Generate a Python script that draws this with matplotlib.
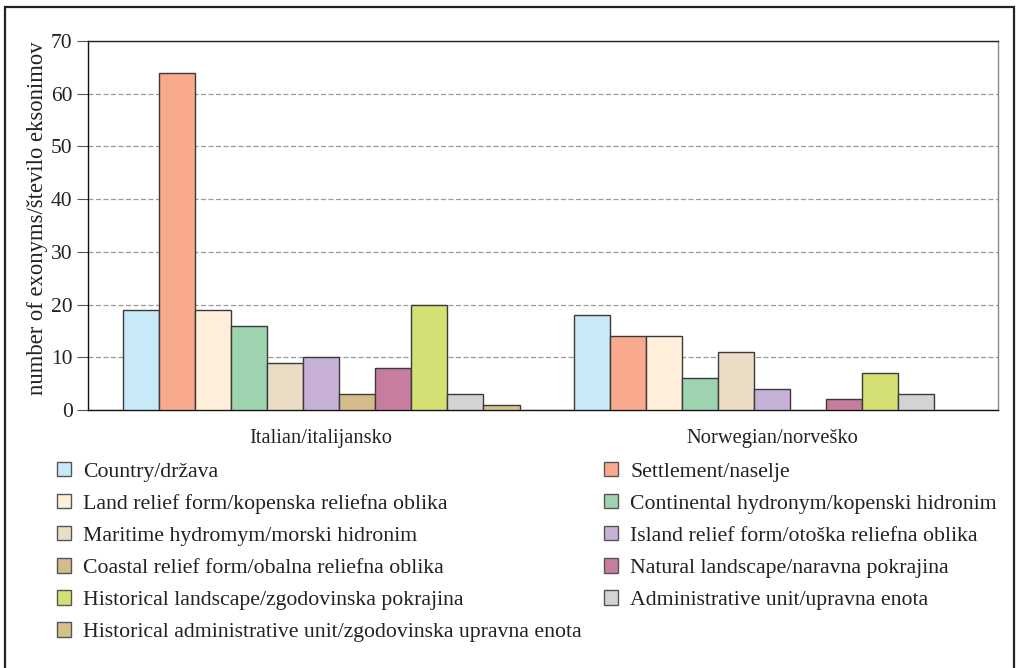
import matplotlib
matplotlib.use("Agg")
import matplotlib.pyplot as plt
from matplotlib.patches import Rectangle
import numpy as np

plt.rcParams['font.family'] = ['Liberation Serif', 'DejaVu Serif']

groups = ["Italian/italijansko", "Norwegian/norveško"]
categories = [
    "Country/država",
    "Settlement/naselje",
    "Land relief form/kopenska reliefna oblika",
    "Continental hydronym/kopenski hidronim",
    "Maritime hydromym/morski hidronim",
    "Island relief form/otoška reliefna oblika",
    "Coastal relief form/obalna reliefna oblika",
    "Natural landscape/naravna pokrajina",
    "Historical landscape/zgodovinska pokrajina",
    "Administrative unit/upravna enota",
    "Historical administrative unit/zgodovinska upravna enota",
]
italian = [19, 64, 19, 16, 9, 10, 3, 8, 20, 3, 1]
norwegian = [18, 14, 14, 6, 11, 4, 0, 2, 7, 3, 0]
colors = ["#C8E9F8", "#F8A98E", "#FEEEDA", "#9DD3AE", "#EBDCC5", "#C7B1D6",
          "#D3BC8A", "#C87C9F", "#D4E073", "#D2D3D5", "#D3C38B"]
yticks = [0, 10, 20, 30, 40, 50, 60, 70]

W, H = 1016, 668
fig = plt.figure(figsize=(W / 100, H / 100), dpi=100)
ax = fig.add_axes([88 / W, 1 - 410 / H, (998 - 88) / W, (410 - 41) / H])

n = len(categories)
bw = 0.08
x = np.arange(len(groups))
handles = []
for i in range(n):
    vals = [italian[i], norwegian[i]]
    off = (i - (n - 1) / 2) * bw
    bars = ax.bar(x + off, vals, bw, color=colors[i], edgecolor="#3a3a3a",
                  linewidth=1.0, label=categories[i], zorder=3)
    for b, v in zip(bars, vals):
        if v == 0:
            b.set_visible(False)
    handles.append(bars)

ax.set_xlim(-0.517, 1.501)
ax.set_ylim(0, 70)
ax.set_yticks(yticks)
ax.set_yticklabels([str(t) for t in yticks], fontsize=15.5, color="#222")
ax.set_xticks(x)
ax.set_xticklabels(groups, fontsize=14.8, color="#222")
ax.tick_params(axis='x', length=0, pad=14)
ax.tick_params(axis='y', length=8, width=0.8, color="#555", pad=3, direction='out')
ax.set_ylabel("number of exonyms/število eksonimov", fontsize=16.3, color="#222")
ax.yaxis.set_label_coords(-40 / 910, 0.52)
ax.yaxis.grid(True, linestyle=(0, (4, 2)), color="#9a9a9a", linewidth=0.9, zorder=0)
ax.spines['left'].set_color("#111")
ax.spines['bottom'].set_color("#111")
ax.spines['top'].set_color("#222")
ax.spines['right'].set_color("#888")
for s in ax.spines.values():
    s.set_linewidth(1.0)

order = [0, 2, 4, 6, 8, 10, 1, 3, 5, 7, 9]
leg = fig.legend([handles[k] for k in order], [categories[k] for k in order],
                 ncol=2, loc='upper left', bbox_to_anchor=(37 / W, 1 - 442 / H),
                 frameon=False, fontsize=15.7, handlelength=0.65, handleheight=0.65,
                 handletextpad=0.56, columnspacing=1.02, labelspacing=0.56,
                 labelcolor="#222")
for p in leg.get_patches():
    p.set_edgecolor("#555")
    p.set_linewidth(1.0)
    p.set_visible(True)

# outer frame
fig.add_artist(Rectangle((5 / W, -0.05), (1014 - 5) / W, 1.05 - 7 / H,
                         transform=fig.transFigure, fill=False,
                         edgecolor="#222", linewidth=1.6))

fig.savefig("out.png", dpi=100)
